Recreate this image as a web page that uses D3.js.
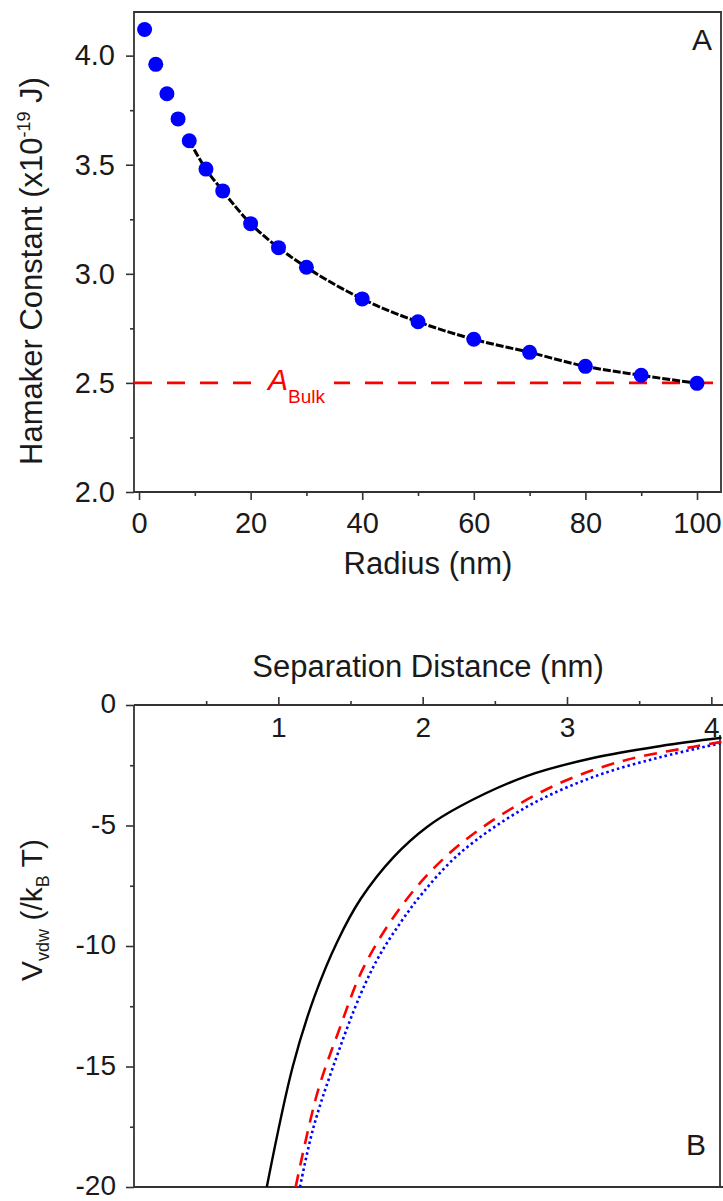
<!DOCTYPE html>
<meta charset="utf-8">
<style>
	body { margin: 0; background: #fff; }
	svg { display: block; }
	text { font-family: "Liberation Sans", Arial, Helvetica, sans-serif; fill: #1a1a1a; }
	.axis line { stroke: #333; stroke-width: 1.6px; }
	.axis path { display: none; }
	.frame { stroke: #333; stroke-width: 1.8px; fill: none; }
</style>
<body>
<div id="chart"></div>
<script src="https://d3js.org/d3.v7.min.js"></script>
<script>
	// panel A: Hamaker constant vs particle radius
	var radius = [1, 3, 5, 7, 9, 12, 15, 20, 25, 30, 40, 50, 60, 70, 80, 90, 100];
	var hamaker = [4.12, 3.96, 3.825, 3.71, 3.61, 3.48, 3.38, 3.23, 3.12, 3.03, 2.885, 2.78, 2.70, 2.64, 2.576, 2.535, 2.498];
	var a_bulk = 2.5;
	var a_xticks = [0, 20, 40, 60, 80, 100];
	var a_xminor = [10, 30, 50, 70, 90];
	var a_yticks = [2.0, 2.5, 3.0, 3.5, 4.0];
	var a_yminor = [2.25, 2.75, 3.25, 3.75];

	// panel B: van der Waals potential vs separation
	var black_d = [0.92, 1.10, 1.25, 1.41, 1.57, 1.80, 2.03, 2.26, 2.72, 3.18, 3.65, 4.07];
	var black_v = [-20, -15, -12.1, -9.8, -8.05, -6.3, -5.06, -4.2, -2.95, -2.2, -1.7, -1.36];
	var red_d = [1.12, 1.27, 1.42, 1.59, 1.84, 2.14, 2.49, 2.95, 3.41, 3.87, 4.07];
	var red_v = [-20, -16.1, -13.5, -10.9, -8.45, -6.4, -4.77, -3.24, -2.28, -1.74, -1.53];
	var blue_d = [1.15, 1.24, 1.38, 1.57, 1.70, 1.85, 2.00, 2.26, 2.72, 3.18, 3.65, 4.07];
	var blue_v = [-20, -17.6, -15, -12.0, -10.4, -9.0, -7.8, -6.14, -4.23, -2.99, -2.16, -1.58];
	var b_xticks = [1, 2, 3, 4];
	var b_xminor = [0.5, 1.5, 2.5, 3.5];
	var b_yticks = [0, -5, -10, -15, -20];
	var b_yminor = [-2.5, -7.5, -12.5, -17.5];

	var W = 723, H = 1201;
	var svg = d3.select("#chart").append("svg")
			.attr("width", W)
			.attr("height", H);

	// plain hyphen for negative labels, like the original
	var plain = function (d) { return String(d); };

	// ---------- panel A ----------
	var xa = d3.scaleLinear().domain([-0.9, 104.3]).range([134, 721]);
	var ya = d3.scaleLinear().domain([2.0, 4.2]).range([492, 12]);

	svg.append("g").attr("class", "axis")
			.attr("transform", "translate(0," + ya(2.0) + ")")
			.call(d3.axisBottom(xa).tickValues(a_xminor).tickSize(4).tickFormat(""));
	svg.append("g").attr("class", "axis")
			.attr("transform", "translate(0," + ya(2.0) + ")")
			.call(d3.axisBottom(xa).tickValues(a_xticks).tickSize(8).tickPadding(12).tickFormat(plain))
			.selectAll("text").style("font-size", "29px");
	svg.append("g").attr("class", "axis")
			.attr("transform", "translate(" + xa.range()[0] + ",0)")
			.call(d3.axisLeft(ya).tickValues(a_yminor).tickSize(4).tickFormat(""));
	svg.append("g").attr("class", "axis")
			.attr("transform", "translate(" + xa.range()[0] + ",0)")
			.call(d3.axisLeft(ya).tickValues(a_yticks).tickSize(8).tickPadding(11).tickFormat(d3.format(".1f")))
			.selectAll("text").style("font-size", "29px");

	// frame
	svg.append("path").attr("class", "frame")
			.attr("d", "M" + xa.range()[1] + "," + ya.range()[1] + "H" + xa.range()[0] + "V" + ya.range()[0] + "H" + xa.range()[1] + "Z");

	// bulk line
	svg.append("line")
			.attr("x1", xa.range()[0]).attr("x2", xa.range()[1])
			.attr("y1", ya(a_bulk)).attr("y2", ya(a_bulk))
			.attr("stroke", "#ff0000").attr("stroke-width", 2.6)
			.attr("stroke-dasharray", "18,15");

	// label box for A_Bulk
	svg.append("rect")
			.attr("x", 252).attr("y", 364).attr("width", 82).attr("height", 42)
			.attr("fill", "#fff");
	var lab = svg.append("text").attr("x", 268).attr("y", 390).style("fill", "#ff0000");
	lab.append("tspan").text("A").style("font-style", "italic").style("font-size", "30px");
	lab.append("tspan").text("Bulk").attr("dy", 13).style("font-size", "19px");

	// fit curve through points from radius 9 on
	var fit = radius.map(function (r, i) { return [r, hamaker[i]]; })
			.filter(function (d) { return d[0] >= 9; });
	svg.append("path")
			.datum(fit)
			.attr("fill", "none")
			.attr("stroke", "#000")
			.attr("stroke-width", 3)
			.attr("stroke-dasharray", "8,2")
			.attr("d", d3.line()
					.x(function (d) { return xa(d[0]); })
					.y(function (d) { return ya(d[1]); })
					.curve(d3.curveMonotoneX));

	svg.append("g").selectAll("circle")
			.data(radius)
			.enter().append("circle")
			.attr("cx", function (d) { return xa(d); })
			.attr("cy", function (d, i) { return ya(hamaker[i]); })
			.attr("r", 7.5)
			.attr("fill", "#0000ff");

	svg.append("text").attr("x", 428).attr("y", 574)
			.attr("text-anchor", "middle").style("font-size", "31px")
			.text("Radius (nm)");

	var yt = svg.append("text")
			.attr("transform", "translate(42,271) rotate(-90)")
			.attr("text-anchor", "middle").style("font-size", "31px");
	yt.append("tspan").text("Hamaker Constant (x10");
	yt.append("tspan").text("-19").attr("dy", -12).style("font-size", "18px");
	yt.append("tspan").text(" J)").attr("dy", 12);

	svg.append("text").attr("x", 702).attr("y", 50)
			.attr("text-anchor", "middle").style("font-size", "30px").text("A");

	// ---------- panel B ----------
	var xb = d3.scaleLinear().domain([0, 4.06]).range([134, 720]);
	var yb = d3.scaleLinear().domain([-20, 0]).range([1187, 705]);

	svg.append("g").attr("class", "axis")
			.attr("transform", "translate(0," + yb(0) + ")")
			.call(d3.axisBottom(xb).tickValues(b_xminor).tickSize(-4).tickFormat(""));
	svg.append("g").attr("class", "axis")
			.attr("transform", "translate(0," + yb(0) + ")")
			.call(d3.axisBottom(xb).tickValues(b_xticks).tickSize(-8).tickPadding(12).tickFormat(plain))
			.selectAll("text").style("font-size", "28px");
	svg.append("g").attr("class", "axis")
			.attr("transform", "translate(" + xb.range()[0] + ",0)")
			.call(d3.axisLeft(yb).tickValues(b_yminor).tickSize(4).tickFormat(""));
	svg.append("g").attr("class", "axis")
			.attr("transform", "translate(" + xb.range()[0] + ",0)")
			.call(d3.axisLeft(yb).tickValues(b_yticks).tickSize(8).tickPadding(10).tickFormat(plain))
			.selectAll("text").style("font-size", "28px").attr("dy", "0.28em");

	svg.append("path").attr("class", "frame")
			.attr("d", "M" + xb.range()[0] + "," + yb.range()[1] + "V" + yb.range()[0] + "H" + W +
					"M" + xb.range()[0] + "," + yb.range()[1] + "H" + W +
					"M" + xb.range()[1] + "," + (yb.range()[1] + 30) + "V" + yb.range()[0]);

	svg.append("clipPath").attr("id", "clipb")
			.append("rect").attr("x", 134).attr("y", 705).attr("width", W - 134).attr("height", 482);

	var lineb = d3.line()
			.x(function (d) { return xb(d[0]); })
			.y(function (d) { return yb(d[1]); })
			.curve(d3.curveCatmullRom.alpha(0.5));

	function pairs(ds, vs) {
		return ds.map(function (d, i) { return [d, vs[i]]; });
	}

	var curves = svg.append("g").attr("clip-path", "url(#clipb)");
	curves.append("path").datum(pairs(blue_d, blue_v))
			.attr("fill", "none").attr("stroke", "#0000ff").attr("stroke-width", 2.6)
			.attr("stroke-dasharray", "2.5,3").attr("d", lineb);
	curves.append("path").datum(pairs(red_d, red_v))
			.attr("fill", "none").attr("stroke", "#ff0000").attr("stroke-width", 2.6)
			.attr("stroke-dasharray", "13,9").attr("d", lineb);
	curves.append("path").datum(pairs(black_d, black_v))
			.attr("fill", "none").attr("stroke", "#000").attr("stroke-width", 2.4)
			.attr("d", lineb);

	svg.append("text").attr("x", 428).attr("y", 677)
			.attr("text-anchor", "middle").style("font-size", "31px")
			.text("Separation Distance (nm)");

	var vt = svg.append("text")
			.attr("transform", "translate(42,910) rotate(-90)")
			.attr("text-anchor", "middle").style("font-size", "30px");
	vt.append("tspan").text("V");
	vt.append("tspan").text("vdw").attr("dy", 7).style("font-size", "18px");
	vt.append("tspan").text(" (/k").attr("dy", -7);
	vt.append("tspan").text("B").attr("dy", 7).style("font-size", "18px");
	vt.append("tspan").text(" T)").attr("dy", -7);

	svg.append("text").attr("x", 696).attr("y", 1155)
			.attr("text-anchor", "middle").style("font-size", "30px").text("B");
</script>
</body>
